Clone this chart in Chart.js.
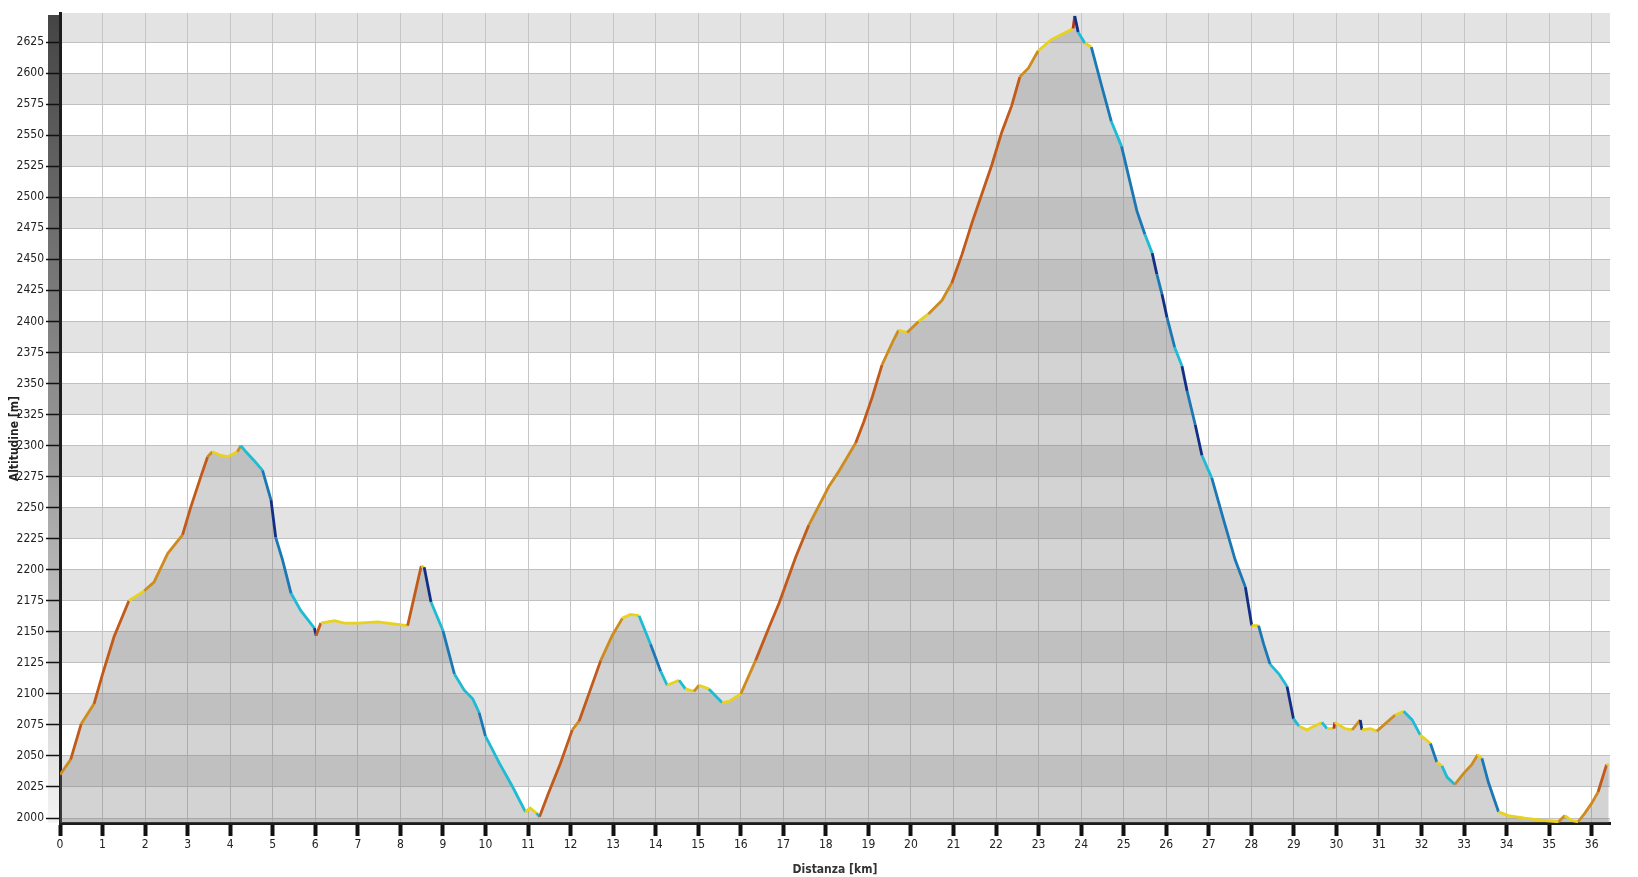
<!DOCTYPE html>
<html>
<head>
<meta charset="utf-8">
<title>Profilo altimetrico</title>
<script src="https://cdn.jsdelivr.net/npm/chart.js@4/dist/chart.umd.min.js"></script>
<style>
  html, body { margin: 0; padding: 0; background: #fff; }
  #wrap { width: 1638px; height: 877px; }
</style>
</head>
<body>
<div id="wrap"><canvas id="profilo" width="1638" height="877"></canvas></div>
<script>
const distKm = [
  0, 0.25, 0.5, 0.8, 1.0, 1.27, 1.62, 1.98, 2.21, 2.53, 2.88, 3.07, 3.31, 3.47, 3.58, 3.78, 3.94,
  4.17, 4.25, 4.37, 4.56, 4.76, 4.96, 5.07, 5.23, 5.43, 5.66, 5.98, 6.02, 6.13, 6.45, 6.68, 7.0,
  7.47, 7.7, 8.17, 8.49, 8.56, 8.72, 9.0, 9.27, 9.5, 9.7, 9.85, 10.0, 10.33, 10.64, 10.94, 11.05,
  11.2, 11.27, 11.48, 11.76, 12.04, 12.2, 12.43, 12.71, 12.98, 13.22, 13.41, 13.61, 13.88, 14.12,
  14.27, 14.55, 14.7, 14.9, 15.02, 15.25, 15.56, 15.72, 16.0, 16.35, 16.67, 16.9, 17.29, 17.6,
  18.07, 18.3, 18.7, 18.89, 19.09, 19.32, 19.59, 19.71, 19.91, 20.18, 20.41, 20.73, 20.96, 21.2,
  21.43, 21.66, 21.9, 22.13, 22.37, 22.56, 22.76, 22.99, 23.3, 23.7, 23.81, 23.85, 23.93, 24.09,
  24.24, 24.48, 24.71, 24.95, 25.31, 25.5, 25.67, 25.78, 25.9, 26.02, 26.2, 26.37, 26.49, 26.68,
  26.84, 27.07, 27.35, 27.62, 27.86, 28.01, 28.17, 28.29, 28.44, 28.65, 28.84, 28.99, 29.12,
  29.31, 29.47, 29.66, 29.78, 29.94, 29.96, 30.21, 30.37, 30.56, 30.6, 30.8, 30.95, 31.15, 31.38,
  31.58, 31.78, 31.97, 32.21, 32.36, 32.48, 32.6, 32.78, 32.99, 33.18, 33.32, 33.42, 33.57, 33.69,
  33.81, 34.04, 34.43, 34.9, 35.22, 35.37, 35.53, 35.68, 35.84, 36.0, 36.15, 36.35, 36.4
];
const altM = [
  2035, 2047, 2076, 2092, 2116, 2146, 2175, 2183, 2190, 2213, 2228, 2250, 2275, 2291, 2295, 2292, 2291,
  2295, 2300, 2295, 2288, 2280, 2256, 2226, 2208, 2181, 2167, 2153, 2147, 2157, 2159, 2157, 2157,
  2158, 2157, 2155, 2203, 2202, 2174, 2151, 2116, 2103, 2096, 2085, 2066, 2044, 2025, 2005, 2008,
  2004, 2001, 2020, 2044, 2071, 2078, 2100, 2127, 2147, 2161, 2164, 2163, 2140, 2118,
  2107, 2111, 2104, 2102, 2107, 2104, 2093, 2094, 2100, 2127, 2154, 2173, 2210, 2236,
  2267, 2279, 2302, 2319, 2339, 2365, 2385, 2393, 2391, 2400, 2406, 2417, 2431, 2454,
  2479, 2502, 2526, 2552, 2574, 2597, 2604, 2618, 2627, 2634, 2636, 2646, 2633, 2624,
  2621, 2590, 2561, 2541, 2489, 2470, 2455, 2438, 2422, 2403, 2379, 2364, 2344, 2317,
  2292, 2274, 2240, 2208, 2186, 2155, 2155, 2140, 2124, 2116, 2106, 2080, 2074,
  2071, 2074, 2077, 2072, 2072, 2077, 2072, 2071, 2079, 2071, 2072, 2070, 2076, 2083,
  2086, 2079, 2067, 2060, 2045, 2042, 2033, 2027, 2036, 2043, 2051, 2048, 2029, 2017,
  2005, 2002, 2000, 1998, 1997, 2002, 1998, 1997, 2004, 2012, 2021, 2043, 2043
];

const xTicks = [0, 1, 2, 3, 4, 5, 6, 7, 8, 9, 10, 11, 12, 13, 14, 15, 16, 17, 18,
  19, 20, 21, 22, 23, 24, 25, 26, 27, 28, 29, 30, 31, 32, 33, 34, 35, 36];
const yTicks = [2000, 2025, 2050, 2075, 2100, 2125, 2150, 2175, 2200, 2225, 2250, 2275, 2300,
  2325, 2350, 2375, 2400, 2425, 2450, 2475, 2500, 2525, 2550, 2575, 2600, 2625];

const FONT = "'DejaVu Sans Condensed', 'DejaVu Sans', sans-serif";

// colore della linea in base alla pendenza (%)
function slopeColor(ctx) {
  const dx = (ctx.p1.parsed.x - ctx.p0.parsed.x) * 1000;
  const dy = ctx.p1.parsed.y - ctx.p0.parsed.y;
  const p = dx > 0 ? dy / dx * 100 : 0;
  if (p > 15) return '#b3341c';
  if (p > 8) return '#c25a1a';
  if (p > 3) return '#cf8c1e';
  if (p >= -3) return '#e8d21e';
  if (p > -9) return '#1ebcd4';
  if (p > -15) return '#1a78b4';
  return '#122f86';
}

// fasce alternate + barra sfumata a sinistra
const sfondo = {
  id: 'sfondo',
  beforeDraw(chart) {
    const { ctx, chartArea: a, scales: { y } } = chart;
    ctx.save();
    ctx.fillStyle = '#ffffff';
    ctx.fillRect(a.left, a.top, a.right - a.left, a.bottom - a.top);
    const step = yTicks[1] - yTicks[0];
    ctx.fillStyle = '#e3e3e3';
    for (let i = -1; i < yTicks.length; i++) {
      if (Math.abs(i) % 2 !== 1) continue;
      const lo = yTicks[0] + i * step;
      const yb = Math.min(a.bottom, y.getPixelForValue(lo));
      const yt = Math.max(a.top, y.getPixelForValue(lo + step));
      if (yb > yt) ctx.fillRect(a.left, yt, a.right - a.left, yb - yt);
    }
    const g = ctx.createLinearGradient(0, a.top, 0, a.bottom);
    g.addColorStop(0, '#444444');
    g.addColorStop(0.55, '#9a9a9a');
    g.addColorStop(1, '#f4f4f4');
    ctx.fillStyle = g;
    ctx.fillRect(a.left - 12, a.top + 2, 12, a.bottom - a.top - 2);
    ctx.restore();
  }
};

const punti = distKm.map((d, i) => ({ x: d, y: altM[i] }));

new Chart(document.getElementById('profilo').getContext('2d'), {
  type: 'line',
  data: {
    datasets: [{
      // linea colorata per pendenza
      label: 'Altitudine',
      data: punti,
      borderWidth: 2.8,
      pointRadius: 0,
      tension: 0,
      fill: false,
      segment: { borderColor: slopeColor }
    }, {
      // area sotto il profilo
      label: 'Area',
      data: punti,
      borderWidth: 0,
      borderColor: 'rgba(0,0,0,0)',
      pointRadius: 0,
      tension: 0,
      fill: 'start',
      backgroundColor: 'rgba(118,118,118,0.32)'
    }]
  },
  options: {
    responsive: false,
    animation: false,
    layout: { padding: { top: 13, right: 28, left: 0, bottom: 0 } },
    plugins: {
      legend: { display: false },
      tooltip: { enabled: false }
    },
    scales: {
      x: {
        type: 'linear',
        min: 0,
        max: 36.43,
        afterFit: s => { s.height = 54; },
        afterBuildTicks: s => { s.ticks = xTicks.map(v => ({ value: v })); },
        grid: { color: '#c6c6c6', lineWidth: 1, tickColor: '#111', tickWidth: 4, tickLength: 13 },
        border: { color: '#1c1c1c', width: 3 },
        ticks: { color: '#222', padding: 2, maxRotation: 0, autoSkip: false,
          callback: v => String(v), font: { family: FONT, size: 12 } },
        title: { display: true, text: 'Distanza [km]', color: '#333', padding: { top: 0, bottom: 0 },
          font: { family: FONT, size: 12, weight: 'bold' } }
      },
      y: {
        min: 1996,
        max: 2648.4,
        afterFit: s => { s.width = 60; },
        afterBuildTicks: s => { s.ticks = yTicks.map(v => ({ value: v })); },
        grid: { color: '#c0c0c0', lineWidth: 1, tickColor: '#111', tickWidth: 1.5, tickLength: 14 },
        border: { color: '#1c1c1c', width: 3 },
        ticks: { color: '#222', padding: 2, autoSkip: false,
          callback: v => String(v), font: { family: FONT, size: 12 } },
        // spazi finali per abbassare un po' il titolo come nell'originale
        title: { display: true, text: 'Altitudine [m]' + '\u00a0'.repeat(11), color: '#222',
          padding: { top: 8, bottom: 0 }, font: { family: FONT, size: 12, weight: 'bold' } }
      }
    }
  },
  plugins: [sfondo]
});
</script>
</body>
</html>
